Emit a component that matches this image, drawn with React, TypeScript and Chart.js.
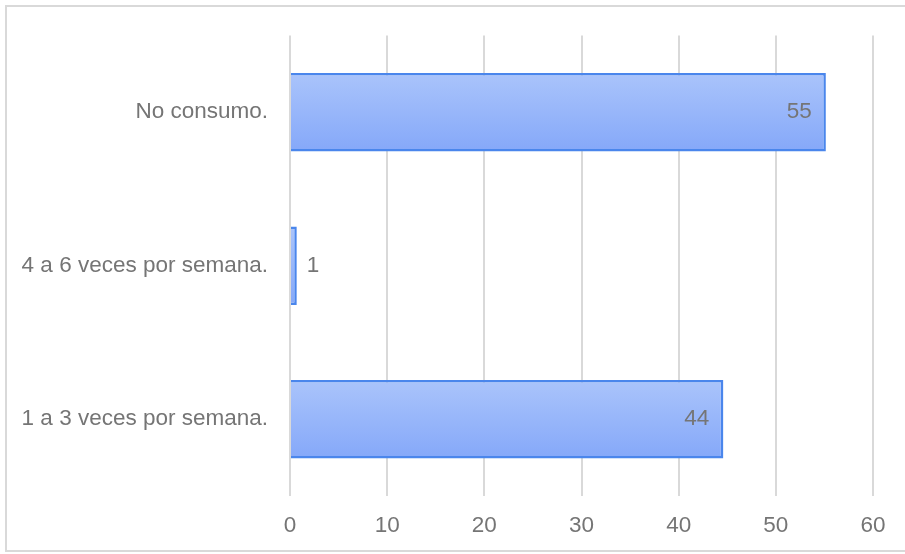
import React, { useEffect, useRef } from "react";
import { Chart, registerables } from "chart.js";

Chart.register(...registerables);

const categories = ["No consumo.", "4 a 6 veces por semana.", "1 a 3 veces por semana."];
const values = [55.15, 0.7, 44.6];
const valueLabels = ["55", "1", "44"];
const xTicks = [0, 10, 20, 30, 40, 50, 60];

const FONT = "'Liberation Sans', Arial, sans-serif";
const TEXT = "#757575";
const FS = 22.5;

const labelPlugin = {
  id: "barValueLabels",
  afterDatasetsDraw(chart: any) {
    const ctx = chart.ctx;
    const meta = chart.getDatasetMeta(0);
    ctx.save();
    ctx.font = `${FS}px ${FONT}`;
    ctx.fillStyle = TEXT;
    ctx.textBaseline = "middle";
    meta.data.forEach((bar: any, i: number) => {
      const w = bar.x - bar.base;
      if (w > 40) {
        ctx.textAlign = "right";
        ctx.fillText(valueLabels[i], bar.x - 14, bar.y);
      } else {
        ctx.textAlign = "left";
        ctx.fillText(valueLabels[i], bar.x + 10, bar.y);
      }
    });
    ctx.restore();
  },
};

export default function App() {
  const ref = useRef<HTMLCanvasElement | null>(null);
  useEffect(() => {
    document.body.style.margin = "0";
    const canvas = ref.current!;
    const chart = new Chart(canvas, {
      type: "bar",
      data: {
        labels: categories,
        datasets: [
          {
            data: values,
            backgroundColor: (c: any) => {
              const ch = c.chart;
              const y = ch.scales && ch.scales.y;
              if (!y || c.dataIndex === undefined) return "#98b6fa";
              const center = y.getPixelForTick(c.dataIndex);
              const half = (y.height / categories.length) * 0.51 / 2;
              if (!isFinite(center) || !isFinite(half) || half <= 0) return "#98b6fa";
              const g = ch.ctx.createLinearGradient(0, center - half, 0, center + half);
              g.addColorStop(0, "#aac4fb");
              g.addColorStop(1, "#85a8f9");
              return g;
            },
            borderColor: "#4a86ec",
            borderWidth: 2.5,
            barPercentage: 0.51,
            categoryPercentage: 1,
          },
        ],
      },
      options: {
        indexAxis: "y",
        animation: false,
        responsive: false,
        maintainAspectRatio: false,
        devicePixelRatio: 1,
        layout: { padding: { top: 34, right: 32, left: 0, bottom: 0 } },
        plugins: { legend: { display: false }, tooltip: { enabled: false } },
        scales: {
          x: {
            min: 0,
            max: 60,
            afterBuildTicks: (s: any) => {
              s.ticks = xTicks.map((v) => ({ value: v }));
            },
            afterFit: (s: any) => {
              s.height = 58;
            },
            grid: { color: "#d9d9d9", lineWidth: 2, drawTicks: false },
            border: { display: false },
            ticks: { color: TEXT, font: { family: FONT, size: FS }, padding: 16 },
          },
          y: {
            afterFit: (s: any) => {
              s.width = 290;
            },
            grid: { display: false, drawTicks: false },
            border: { display: false },
            ticks: { color: TEXT, font: { family: FONT, size: FS }, padding: 22 },
          },
        },
      },
      plugins: [labelPlugin],
    } as any);
    return () => chart.destroy();
  }, []);

  return (
    <div style={{ position: "fixed", left: 0, top: 0, width: 905, height: 554, background: "#fff", overflow: "hidden" }}>
      <div
        style={{
          position: "absolute",
          left: 5,
          top: 5,
          width: 940,
          height: 547,
          boxSizing: "border-box",
          border: "2px solid #d9d9d9",
        }}
      />
      <canvas ref={ref} width={905} height={554} style={{ position: "absolute", left: 0, top: 0, width: 905, height: 554 }} />
    </div>
  );
}
